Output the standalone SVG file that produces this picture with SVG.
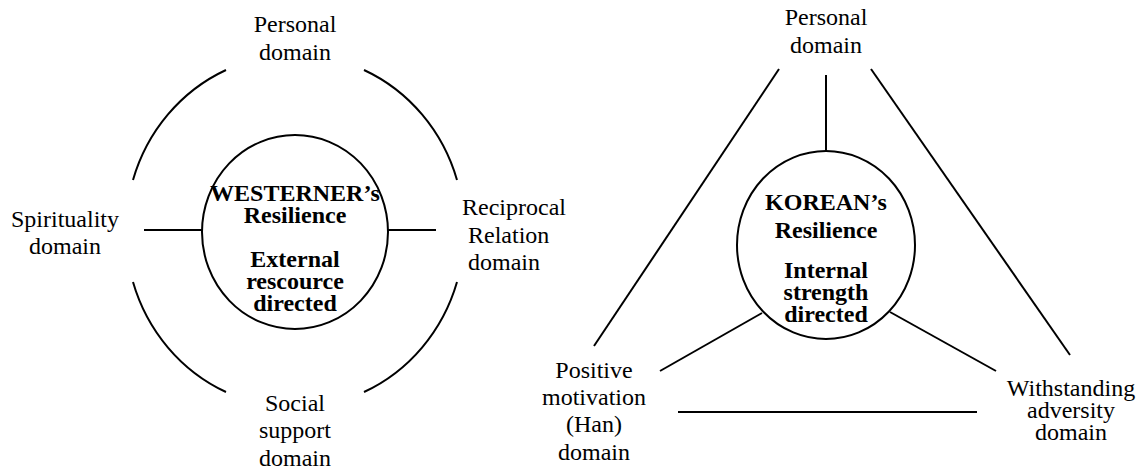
<svg xmlns="http://www.w3.org/2000/svg" width="1140" height="469" viewBox="0 0 1140 469">
<style>
text{font-family:"Liberation Serif","Times New Roman",serif;font-size:24px;fill:#000}
.b{font-weight:bold}
.c{text-anchor:middle}
.ln{stroke:#000;stroke-width:2;fill:none}
.hub{stroke:#000;stroke-width:2;fill:#fff}
</style>
<rect width="1140" height="469" fill="#fff"/>
<g id="connectors">
<path class="ln" d="M226,70 A169,176 0 0 0 133,180"/>
<path class="ln" d="M364,70 A169,176 0 0 1 457,180"/>
<path class="ln" d="M457,282 A169,176 0 0 1 364,392"/>
<path class="ln" d="M226,392 A169,176 0 0 1 133,282"/>
<line class="ln" x1="144" y1="230" x2="202" y2="230"/>
<line class="ln" x1="388" y1="230" x2="436" y2="230"/>
<line class="ln" x1="779" y1="69" x2="594" y2="346"/>
<line class="ln" x1="871" y1="69" x2="1070" y2="355"/>
<line class="ln" x1="678" y1="412" x2="977" y2="412"/>
<line class="ln" x1="660" y1="371" x2="762" y2="313"/>
<line class="ln" x1="890" y1="312" x2="996" y2="371"/>
<line class="ln" x1="826" y1="75" x2="826" y2="151"/>
</g>
<g id="western-hub">
<ellipse class="hub" cx="295" cy="232" rx="93" ry="97"/>
<text class="b c" x="295" y="201">WESTERNER’s</text>
<text class="b c" x="295" y="223">Resilience</text>
<text class="b c" x="295" y="267">External</text>
<text class="b c" x="295" y="289">rescource</text>
<text class="b c" x="295" y="311">directed</text>
</g>
<g id="w-personal"><text class="c" x="295" y="32">Personal</text><text class="c" x="295" y="60">domain</text></g>
<g id="w-spirituality"><text class="c" x="65" y="227">Spirituality</text><text class="c" x="65" y="254">domain</text></g>
<g id="w-reciprocal"><text x="462" y="215">Reciprocal</text><text x="468" y="243">Relation</text><text x="468" y="270">domain</text></g>
<g id="w-social"><text class="c" x="295" y="411">Social</text><text class="c" x="295" y="438">support</text><text class="c" x="295" y="466">domain</text></g>
<g id="korean-hub">
<ellipse class="hub" cx="826" cy="245" rx="89" ry="94"/>
<text class="b c" x="826" y="210">KOREAN’s</text>
<text class="b c" x="826" y="238">Resilience</text>
<text class="b c" x="826" y="278">Internal</text>
<text class="b c" x="826" y="300">strength</text>
<text class="b c" x="826" y="322">directed</text>
</g>
<g id="k-personal"><text class="c" x="826" y="25">Personal</text><text class="c" x="826" y="53">domain</text></g>
<g id="k-positive"><text class="c" x="594" y="378">Positive</text><text class="c" x="594" y="405">motivation</text><text class="c" x="594" y="432">(Han)</text><text class="c" x="594" y="460">domain</text></g>
<g id="k-withstanding"><text class="c" x="1071" y="396">Withstanding</text><text class="c" x="1071" y="418">adversity</text><text class="c" x="1071" y="440">domain</text></g>
</svg>
